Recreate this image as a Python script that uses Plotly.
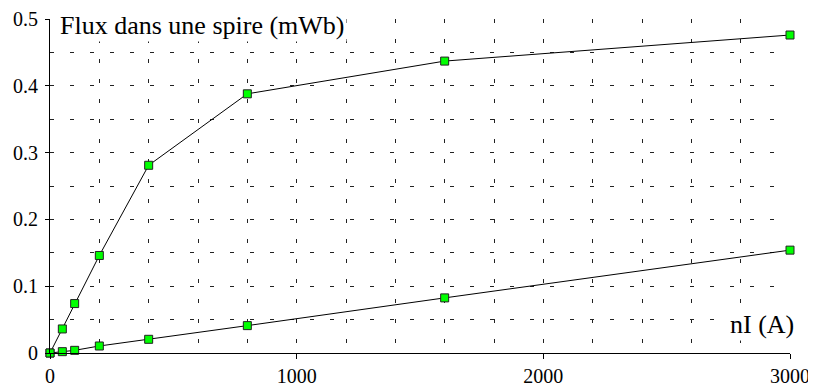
import plotly.graph_objects as go

nI = [0, 50, 100, 200, 400, 800, 1600, 3000]
flux_fer = [0, 0.036, 0.074, 0.146, 0.281, 0.388, 0.437, 0.476]
flux_air = [0, 0.002, 0.004, 0.0105, 0.0205, 0.041, 0.0825, 0.154]

x_ticks = [0, 1000, 2000, 3000]
y_ticks = [0, 0.1, 0.2, 0.3, 0.4, 0.5]
y_tick_labels = ["0", "0.1", "0.2", "0.3", "0.4", "0.5"]

FONT = "'Liberation Serif', 'Times New Roman', serif"

fig = go.Figure()
for ys in (flux_fer, flux_air):
    fig.add_trace(go.Scatter(
        x=nI, y=ys, mode="lines+markers",
        line=dict(color="black", width=1),
        marker=dict(symbol="square", size=8, color="#00ff00",
                    line=dict(color="#222222", width=1)),
        cliponaxis=False, showlegend=False,
    ))

grid_dash = "4px,16px"
fig.update_xaxes(
    range=[0, 3000], tickvals=x_ticks, ticktext=[str(v) for v in x_ticks],
    showline=True, linecolor="black", linewidth=1,
    ticks="outside", ticklen=5, tickcolor="black", ticklabelstandoff=0,
    showgrid=True, gridcolor="#222222", gridwidth=1, griddash=grid_dash,
    minor=dict(dtick=200, tick0=0, showgrid=True, gridcolor="#222222",
               gridwidth=1, griddash=grid_dash, ticks=""),
    zeroline=False, automargin=False,
    tickfont=dict(family=FONT, size=20, color="black"),
)
fig.update_yaxes(
    range=[0, 0.5], tickvals=y_ticks, ticktext=y_tick_labels,
    showline=True, linecolor="black", linewidth=1,
    ticks="outside", ticklen=4, tickcolor="black", ticklabelstandoff=3,
    showgrid=True, gridcolor="#222222", gridwidth=1, griddash=grid_dash,
    minor=dict(dtick=0.05, tick0=0, showgrid=True, gridcolor="#222222",
               gridwidth=1, griddash=grid_dash, ticks=""),
    zeroline=False, automargin=False,
    tickfont=dict(family=FONT, size=20, color="black"),
)

fig.add_annotation(text="Flux dans une spire (mWb)", xref="paper", yref="paper",
                   x=0, y=1, xanchor="left", yanchor="middle", xshift=8, yshift=-6,
                   showarrow=False, bgcolor="white",
                   font=dict(family=FONT, size=26, color="black"))
fig.add_annotation(text="nI (A)", xref="paper", yref="paper",
                   x=1, y=0, xanchor="right", yanchor="bottom", xshift=6, yshift=12,
                   showarrow=False, bgcolor="white",
                   font=dict(family=FONT, size=26, color="black"))

# the page body has an 8px margin, so the figure is sized/margined to compensate
fig.update_layout(
    width=808, height=381,
    margin=dict(l=42, r=26, t=11, b=36),
    plot_bgcolor="white", paper_bgcolor="white",
)

fig.write_html("out.html")
